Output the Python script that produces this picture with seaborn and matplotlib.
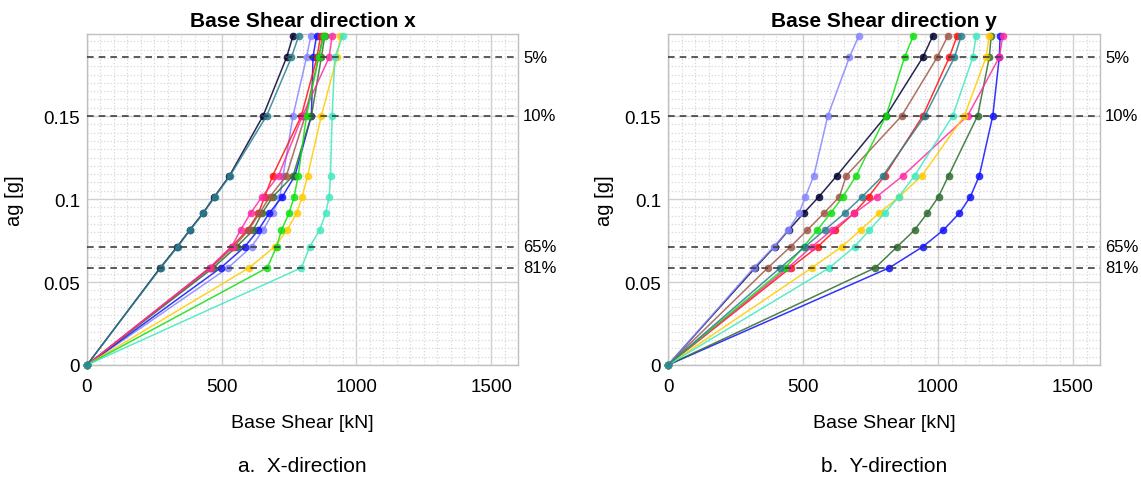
import numpy as np
import pandas as pd
import matplotlib.pyplot as plt
from matplotlib.ticker import MultipleLocator
import matplotlib.transforms as mtransforms
import seaborn as sns

# ag levels (g) at which base shear was recorded
ag = [0, 0.0586, 0.0713, 0.0813, 0.0914, 0.1014, 0.1140, 0.1502, 0.1854, 0.1984]

# hazard levels (dashed lines)
hazard_ag = [0.1854, 0.1502, 0.0713, 0.0586]
hazard_lbl = ['5%', '10%', '65%', '81%']

# drawing order (teal last, so it sits on top at the origin)
series = ['black', 'periwinkle', 'blue', 'red', 'darkgreen',
          'brown', 'pink', 'gold', 'lime', 'turquoise', 'teal']
palette = {'black': '#000033', 'teal': '#2a7f8f', 'periwinkle': '#8585ff',
           'blue': '#1010ff', 'red': '#ff1010', 'darkgreen': '#2e6b2e',
           'brown': '#a0584a', 'pink': '#ff2aa0', 'gold': '#ffcc00',
           'lime': '#10e010', 'turquoise': '#40e8c0'}

# base shear [kN], direction x
shear_x = {
    'black':      [0, 272, 335, 381, 430, 473, 529, 654, 741, 765],
    'teal':       [0, 274, 337, 383, 432, 475, 531, 667, 759, 786],
    'periwinkle': [0, 524, 611, 654, 689, 716, 728, 765, 815, 831],
    'blue':       [0, 497, 586, 636, 676, 725, 772, 833, 839, 852],
    'red':        [0, 457, 537, 596, 636, 660, 689, 796, 854, 867],
    'darkgreen':  [0, 469, 556, 617, 650, 690, 765, 833, 870, 883],
    'brown':      [0, 460, 545, 600, 640, 679, 740, 810, 860, 875],
    'pink':       [0, 455, 537, 570, 607, 650, 711, 800, 899, 910],
    'gold':       [0, 602, 697, 743, 778, 799, 819, 870, 928, 941],
    'lime':       [0, 669, 704, 722, 750, 769, 784, 815, 860, 880],
    'turquoise':  [0, 796, 827, 864, 886, 899, 904, 910, 920, 950],
}

# base shear [kN], direction y
shear_y = {
    'black':      [0, 323, 395, 447, 502, 559, 625, 808, 944, 981],
    'teal':       [0, 416, 508, 580, 654, 719, 796, 952, 1061, 1086],
    'periwinkle': [0, 318, 393, 445, 485, 509, 540, 592, 672, 707],
    'blue':       [0, 820, 944, 1020, 1079, 1120, 1153, 1203, 1227, 1230],
    'red':        [0, 454, 555, 620, 688, 743, 802, 944, 1042, 1071],
    'darkgreen':  [0, 768, 849, 913, 960, 1002, 1039, 1147, 1190, 1197],
    'brown':      [0, 370, 454, 516, 577, 635, 660, 866, 997, 1037],
    'pink':       [0, 444, 533, 607, 690, 773, 870, 1110, 1227, 1240],
    'gold':       [0, 533, 644, 713, 781, 857, 940, 1098, 1178, 1190],
    'lime':       [0, 434, 502, 553, 602, 648, 697, 808, 876, 909],
    'turquoise':  [0, 598, 691, 746, 802, 855, 913, 1055, 1129, 1141],
}


def long_df(d):
    rows = []
    for s in series:
        for a, v in zip(ag, d[s]):
            rows.append((s, a, v))
    return pd.DataFrame(rows, columns=['series', 'ag', 'shear'])


sns.set_style('white')
plt.rcParams['font.family'] = ['Liberation Sans', 'DejaVu Sans']
plt.rcParams['text.color'] = 'black'
plt.rcParams['axes.labelcolor'] = 'black'
plt.rcParams['xtick.labelcolor'] = 'black'
plt.rcParams['ytick.labelcolor'] = 'black'

fig = plt.figure(figsize=(11.41, 4.81), dpi=100)
W, H = 1141, 481
ax1 = fig.add_axes([87 / W, 1 - 366 / H, 431 / W, 331 / H])
ax2 = fig.add_axes([668 / W, 1 - 366 / H, 432 / W, 331 / H])

panels = [(ax1, shear_x, 'Base Shear direction x', 'a.  X-direction', -72),
          (ax2, shear_y, 'Base Shear direction y', 'b.  Y-direction', -63)]

for ax, d, title, cap, ylab_off in panels:
    df = long_df(d)
    sns.lineplot(data=df, x='shear', y='ag', hue='series', hue_order=series,
                 palette=palette, sort=False, estimator=None, marker='o',
                 markersize=5.5, markeredgewidth=0, linewidth=1.1, alpha=0.85,
                 ax=ax, legend=False, clip_on=False, zorder=3)
    ax.set_xlim(0, 1600)
    ax.set_ylim(0, 0.1994)
    ax.xaxis.set_minor_locator(MultipleLocator(50))
    ax.yaxis.set_minor_locator(MultipleLocator(0.005))
    ax.set_xticks([0, 500, 1000, 1500])
    ax.set_xticklabels(['0', '500', '1000', '1500'])
    ax.set_yticks([0, 0.05, 0.1, 0.15])
    ax.set_yticklabels(['0', '0.05', '0.1', '0.15'])
    ax.grid(which='major', color='#d0d0d0', linewidth=1.0)
    ax.grid(which='minor', color='#d8d8d8', linestyle=':', linewidth=0.9)
    ax.set_axisbelow(True)
    for sp in ax.spines.values():
        sp.set_color('#c0c0c0')
        sp.set_linewidth(1.0)
    ax.tick_params(axis='both', which='major', labelsize=13.5, length=4,
                   color='#808080', labelcolor='black', direction='in')
    ax.tick_params(axis='x', which='major', pad=9)
    ax.tick_params(axis='y', which='major', pad=5)
    ax.tick_params(axis='both', which='minor', length=0)
    ax.set_title(title, fontsize=15, fontweight='bold', pad=6, color='black')
    ax.set_xlabel('Base Shear [kN]', fontsize=14, va='center', color='black')
    ax.xaxis.set_label_coords(0.5, -57 / 331)
    ax.set_ylabel('ag [g]', fontsize=14.5, va='center', color='black')
    ax.yaxis.set_label_coords(ylab_off / 431, 0.5)
    trans = mtransforms.blended_transform_factory(ax.transAxes, ax.transData)
    for h, lbl in zip(hazard_ag, hazard_lbl):
        ax.axhline(h, color='#404040', linestyle=(0, (4, 3)), linewidth=1.2,
                   zorder=4)
        ax.text(1.012, h, lbl, transform=trans, fontsize=12,
                va='center', ha='left', color='black')
    ax.text(0.5, -101 / 331, cap, transform=ax.transAxes, fontsize=15,
            ha='center', va='center', color='black')

fig.savefig('out.png', dpi=100)
